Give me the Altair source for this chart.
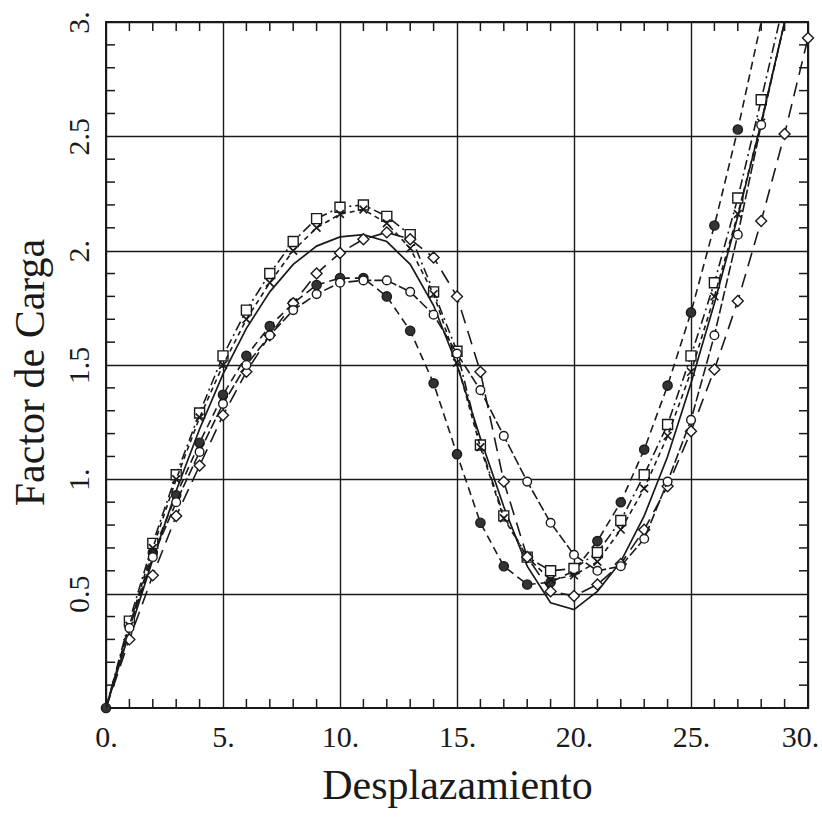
import altair as alt
import pandas as pd

# ---------------- data ----------------
x_solid = list(range(0, 30))
y_solid = [0, 0.33, 0.65, 0.95, 1.22, 1.46, 1.66, 1.82, 1.94, 2.02, 2.06, 2.07, 2.04, 1.94, 1.76,
           1.50, 1.18, 0.88, 0.62, 0.46, 0.43, 0.51, 0.64, 0.84, 1.10, 1.42, 1.77, 2.15, 2.56, 3.0]

x_fcirc = list(range(0, 29))
y_fcirc = [0, 0.36, 0.68, 0.93, 1.16, 1.37, 1.54, 1.67, 1.77, 1.85, 1.88, 1.88, 1.80, 1.65, 1.42,
           1.11, 0.81, 0.62, 0.54, 0.55, 0.60, 0.73, 0.90, 1.13, 1.41, 1.73, 2.11, 2.53, 3.0]

x_square = list(range(0, 30))
y_square = [0, 0.38, 0.72, 1.02, 1.29, 1.54, 1.74, 1.90, 2.04, 2.14, 2.19, 2.20, 2.15, 2.07, 1.82,
            1.56, 1.15, 0.84, 0.66, 0.60, 0.61, 0.68, 0.82, 1.02, 1.24, 1.54, 1.86, 2.23, 2.66, 3.1]

x_cross = list(range(0, 30))
y_cross = [0, 0.36, 0.70, 1.00, 1.27, 1.50, 1.70, 1.86, 2.00, 2.10, 2.16, 2.18, 2.12, 2.01, 1.81,
           1.51, 1.14, 0.83, 0.66, 0.56, 0.58, 0.64, 0.78, 0.96, 1.19, 1.47, 1.80, 2.16, 2.56, 3.0]

x_diamond = list(range(0, 31))
y_diamond = [0, 0.30, 0.58, 0.84, 1.06, 1.28, 1.47, 1.63, 1.77, 1.90, 1.99, 2.05, 2.08, 2.05, 1.97,
             1.80, 1.47, 0.99, 0.66, 0.51, 0.49, 0.54, 0.63, 0.78, 0.97, 1.21, 1.48, 1.78, 2.13, 2.51, 2.93]

x_ocirc = list(range(0, 30))
y_ocirc = [0, 0.35, 0.66, 0.90, 1.12, 1.33, 1.50, 1.63, 1.74, 1.81, 1.86, 1.87, 1.87, 1.82, 1.72,
           1.55, 1.39, 1.19, 0.99, 0.81, 0.67, 0.60, 0.62, 0.74, 0.99, 1.26, 1.63, 2.07, 2.55, 3.0]

x_ticks_vals = [0, 5, 10, 15, 20, 25, 30]
y_ticks_vals = [0.5, 1.0, 1.5, 2.0, 2.5, 3.0]
x_minor = [v for v in range(1, 30) if v % 5 != 0]
y_minor = [round(v / 10, 1) for v in range(1, 30) if v % 5 != 0]

# ---------------- layout ----------------
W, H = 702, 686
FONT = "Liberation Serif"
INK = "#1a1a1a"
TL = 9

xs = alt.Scale(domain=[0, 30], nice=False, zero=False)
ys = alt.Scale(domain=[0, 3], nice=False, zero=False)

x_axis = alt.Axis(
    values=x_ticks_vals, labelExpr="datum.value + '.'", title="Desplazamiento",
    grid=True, gridColor=INK, gridWidth=1.4, gridOpacity=1, ticks=False, domain=False,
    labelFont=FONT, labelFontSize=30, labelColor=INK, labelPadding=14,
    labelOffset={"condition": {"test": "datum.value == 30", "value": -8}, "value": 0},
    titleFont=FONT, titleFontSize=42, titleFontWeight="normal", titleColor=INK,
    titleX=351, titleY=77, titleBaseline="middle", labelFlush=False)
y_axis = alt.Axis(
    values=y_ticks_vals,
    labelExpr="datum.value % 1 == 0 ? datum.value + '.' : '' + datum.value",
    title="Factor de Carga",
    grid=True, gridColor=INK, gridWidth=1.4, gridOpacity=1, ticks=False, domain=False,
    labelFont=FONT, labelFontSize=30, labelColor=INK, labelPadding=12,
    labelAngle=270, labelAlign="center", labelBaseline="bottom",
    titleFont=FONT, titleFontSize=42, titleFontWeight="normal", titleColor=INK,
    titleAngle=270, titleX=-76, titleY=350, titleBaseline="middle", labelFlush=False)

XE = alt.X("x:Q", scale=xs, axis=x_axis)
YE = alt.Y("y:Q", scale=ys, axis=y_axis)


def df(xv, yv):
    return pd.DataFrame({"x": xv, "y": yv})


layers = [alt.Chart(df(x_solid, y_solid)).mark_line(stroke=INK, strokeWidth=1.7, clip=True)
          .encode(x=XE, y=YE)]


def series(xv, yv, dash, shape=None, fill="white", size=90, filled=True, marker_from=1):
    d = df(xv, yv)
    out = [alt.Chart(d).mark_line(stroke=INK, strokeWidth=1.6, strokeDash=dash, clip=True)
           .encode(x=XE, y=YE)]
    if shape is not None:
        dm = d[(d.x >= marker_from) & (d.y < 2.99)]
        if filled:
            pt = alt.Chart(dm).mark_point(shape=shape, filled=True, fill=fill, stroke=INK,
                                          strokeWidth=1.4, size=size, opacity=1)
        else:
            pt = alt.Chart(dm).mark_point(shape=shape, filled=False, stroke=INK,
                                          strokeWidth=1.7, size=size, opacity=1)
        out.append(pt.encode(x=XE, y=YE))
    return out


layers += series(x_fcirc, y_fcirc, [8, 5], "circle", fill="#333333", size=85, marker_from=0)
layers += series(x_square, y_square, [10, 4, 2, 4], "square", size=100)
layers += series(x_cross, y_cross, [5, 4], "M-1,-1L1,1M-1,1L1,-1", size=60, filled=False)
layers += series(x_diamond, y_diamond, [14, 8], "diamond", size=120)
layers += series(x_ocirc, y_ocirc, [10, 3], "circle", size=75)

# inward minor ticks
xt = pd.DataFrame({"x": x_minor})
yt = pd.DataFrame({"y": y_minor})
tick_style = dict(stroke=INK, strokeWidth=1.5)
layers.append(alt.Chart(xt).mark_rule(**tick_style).encode(
    x=XE, y=alt.value(H), y2=alt.value(H - TL)))
layers.append(alt.Chart(xt).mark_rule(**tick_style).encode(
    x=XE, y=alt.value(0), y2=alt.value(TL)))
layers.append(alt.Chart(yt).mark_rule(**tick_style).encode(
    y=YE, x=alt.value(0), x2=alt.value(TL)))
layers.append(alt.Chart(yt).mark_rule(**tick_style).encode(
    y=YE, x=alt.value(W), x2=alt.value(W - TL)))

chart = alt.layer(*layers).properties(
    width=W, height=H,
    autosize=alt.AutoSizeParams(type="none"),
    padding={"left": 106, "top": 22, "right": 14, "bottom": 115},
    background="white",
).configure_view(stroke=INK, strokeWidth=2)

chart.save("out.html", embed_options={"renderer": "svg", "actions": False})
